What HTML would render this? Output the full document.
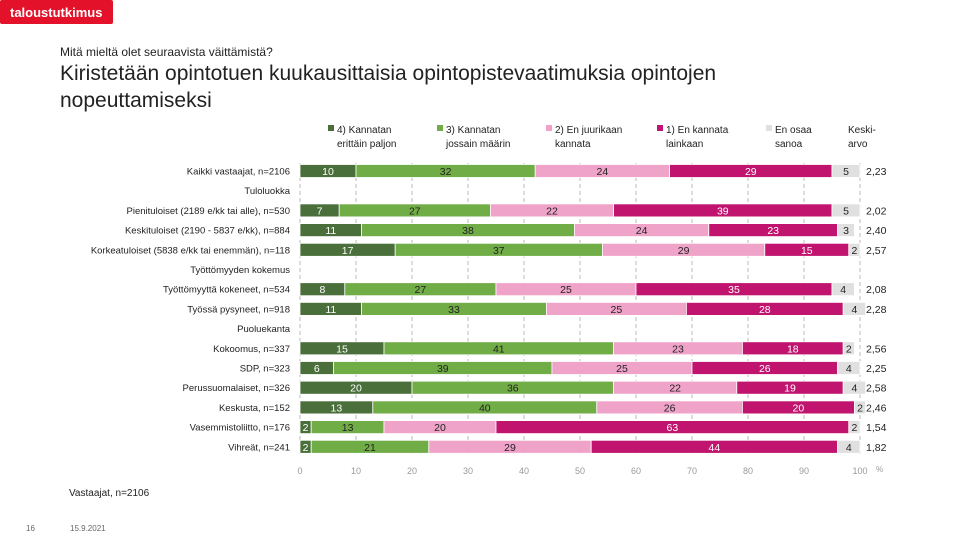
<!DOCTYPE html>
<html><head><meta charset="utf-8"><style>
body{margin:0;width:960px;height:540px;background:#fff;overflow:hidden;font-family:"Liberation Sans",sans-serif;}
svg text{font-family:"Liberation Sans",sans-serif;}
</style></head><body>
<svg id="c" width="960" height="540" xmlns="http://www.w3.org/2000/svg">
<rect x="0" y="0" width="113" height="24" rx="2" fill="#e3122a"/>
<text x="10" y="17" font-size="13" font-weight="bold" fill="#fff">taloustutkimus</text>
<text x="60" y="56" font-size="12" fill="#222">Mitä mieltä olet seuraavista väittämistä?</text>
<text x="60" y="80" font-size="21" fill="#222" font-weight="300">Kiristetään opintotuen kuukausittaisia opintopistevaatimuksia opintojen</text>
<text x="60" y="107" font-size="21" fill="#222">nopeuttamiseksi</text>
<g id="grid"></g><g id="bars"></g><g id="labels"></g><g id="legend"></g>
<text x="69" y="496" font-size="10" fill="#222">Vastaajat, n=2106</text>
<text x="26" y="531" font-size="8" fill="#666">16</text>
<text x="70" y="531" font-size="8" fill="#666">15.9.2021</text>
</svg>
<script>
const categories=["Kaikki vastaajat, n=2106","Tuloluokka","Pienituloiset (2189 e/kk tai alle), n=530","Keskituloiset (2190 - 5837 e/kk), n=884","Korkeatuloiset (5838 e/kk tai enemmän), n=118","Työttömyyden kokemus","Työttömyyttä kokeneet, n=534","Työssä pysyneet, n=918","Puoluekanta","Kokoomus, n=337","SDP, n=323","Perussuomalaiset, n=326","Keskusta, n=152","Vasemmistoliitto, n=176","Vihreät, n=241"];
const s4=[10,null,7,11,17,null,8,11,null,15,6,20,13,2,2];
const s3=[32,null,27,38,37,null,27,33,null,41,39,36,40,13,21];
const s2=[24,null,22,24,29,null,25,25,null,23,25,22,26,20,29];
const s1=[29,null,39,23,15,null,35,28,null,18,26,19,20,63,44];
const s0=[5,null,5,3,2,null,4,4,null,2,4,4,2,2,4];
const means=["2,23",null,"2,02","2,40","2,57",null,"2,08","2,28",null,"2,56","2,25","2,58","2,46","1,54","1,82"];
const ticks=[0,10,20,30,40,50,60,70,80,90,100];
const seriesNames=["4) Kannatan|erittäin paljon","3) Kannatan|jossain määrin","2) En juurikaan|kannata","1) En kannata|lainkaan","En osaa|sanoa"];
const colors=["#4a6f3b","#71ad47","#f0a3c9","#c0146e","#e0e0e0"];
const txtColors=["#fff","#222","#222","#fff","#222"];
const NS="http://www.w3.org/2000/svg";
const X=v=>300+v*5.6, Y=i=>171+i*19.7;
function mk(p,t,a){const e=document.createElementNS(NS,t);for(const k in a)e.setAttribute(k,a[k]);p.appendChild(e);return e;}
const G=document.getElementById('grid'),B=document.getElementById('bars'),L=document.getElementById('labels'),LG=document.getElementById('legend');
ticks.forEach(t=>{
 const l=mk(G,'line',{x1:X(t),x2:X(t),y1:163,y2:456,stroke:'#aaa','stroke-dasharray':'4,3','stroke-width':0.8});
 
 
 const tx=mk(G,'text',{x:X(t),y:474,'font-size':9,fill:'#999','text-anchor':'middle'});tx.textContent=t;
 
 
});
const pc=mk(G,'text',{x:876,y:472,'font-size':8,fill:'#999'});pc.textContent='%';


const series=[s4,s3,s2,s1,s0];
categories.forEach((c,i)=>{
 const y=Y(i);const isHead=s4[i]===null;
 const t=mk(L,'text',{x:isHead?290:290,y:y+3.5,'font-size':9.5,fill:'#222','text-anchor':'end'});t.textContent=c;
 
 
 if(isHead)return;
 let cum=0;
 series.forEach((s,k)=>{
  const v=s[i];const x0=X(cum),x1=X(cum+v);
  const r=mk(B,'rect',{x:x0,y:y-6.5,width:x1-x0,height:13,fill:colors[k],stroke:'#fff','stroke-width':0.8});
  
  
  const vt=mk(B,'text',{x:(x0+x1)/2,y:y+4,'font-size':10.5,fill:txtColors[k],'text-anchor':'middle'});vt.textContent=v;
  
  
  cum+=v;
 });
 const m=mk(L,'text',{x:866,y:y+4,'font-size':10.5,fill:'#222'});m.textContent=means[i];
 
 
});
const lx=[328,437,546,657,766];
seriesNames.forEach((n,k)=>{
 const r=mk(LG,'rect',{x:lx[k],y:125,width:6,height:6,fill:colors[k]});
 
 
 const p=n.split('|');
 p.forEach((s,j)=>{const t=mk(LG,'text',{x:lx[k]+9,y:133+j*14,'font-size':10,fill:'#222'});t.textContent=s;
  
  });
});
['Keski-','arvo'].forEach((s,j)=>{const t=mk(LG,'text',{x:848,y:133+j*14,'font-size':10,fill:'#222'});t.textContent=s;
 
 });
</script>
</body></html>
